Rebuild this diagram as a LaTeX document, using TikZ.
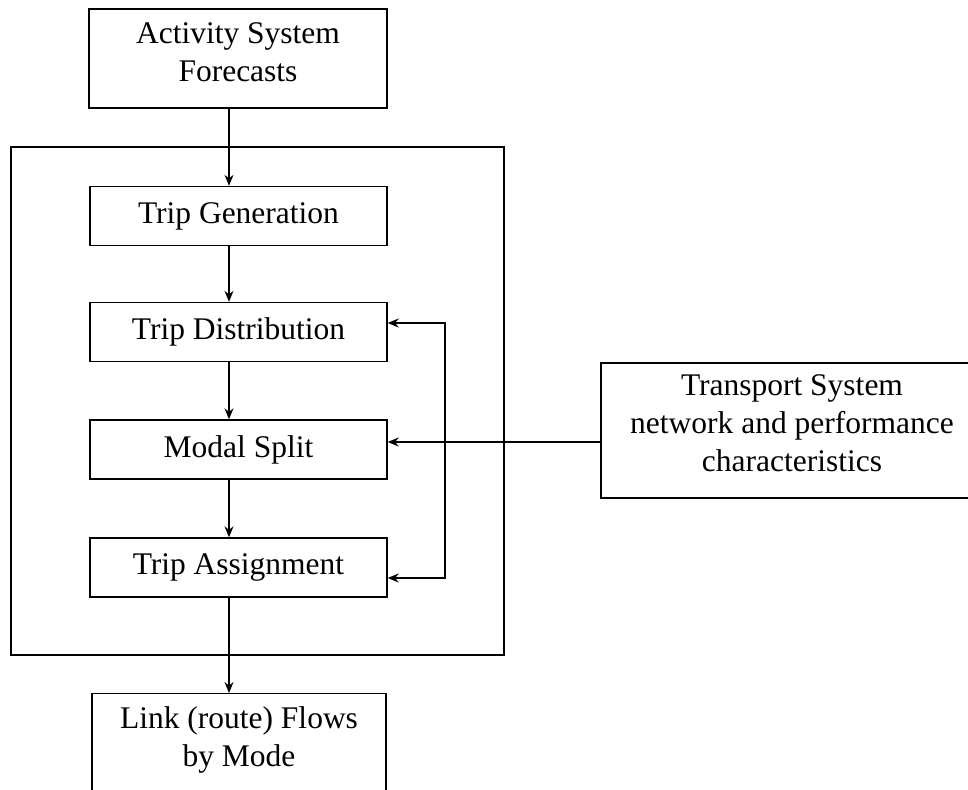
\documentclass[tikz,border=0pt]{standalone}
\usepackage{fontspec}
\setmainfont{Liberation Serif}
\usetikzlibrary{arrows.meta}
\newcommand{\stage}[3]{%
 \node[stage] ({#1}) at ({#2}) {#3};%
}
\begin{document}
\begin{tikzpicture}[x=1pt,y=-1pt,
  >={Stealth[length=11pt,width=9pt]},
  every node/.style={font=\fontsize{31.5}{38}\selectfont},
  stage/.style={draw,line width=1.4pt,minimum width=297pt,minimum height=59pt,align=center},
  link/.style={line width=1.3pt}]
   \useasboundingbox (0,0) rectangle (968,789);
   \clip (0,0) rectangle (968,789);
   \node[stage,minimum width=298pt,minimum height=99pt,text depth=13pt] (act) at (238,58.5) {Activity System\\Forecasts};
   \node[draw,line width=1.4pt,minimum width=493pt,minimum height=508pt] (model) at (257.5,401) {};
   \stage{gen}{238.5,216}{Trip Generation};
   \stage{dist}{238.5,332}{Trip Distribution};
   \stage{modal}{238.5,449.5}{Modal Split};
   \stage{assign}{238.5,567.5}{Trip Assignment};
   \node[stage,minimum width=294pt,minimum height=0pt,anchor=north,inner ysep=13pt,text depth=90pt] (flows) at (239,693) {Link (route) Flows\\by Mode};
   \node[stage,minimum width=382pt,minimum height=135pt,text depth=15pt] (trans) at (792,430.5) {Transport System\\network and performance\\characteristics};
   \coordinate (spine) at (229,0);
   \coordinate (fb1) at (445,323);
   \coordinate (fb2) at (445,442);
   \coordinate (fb3) at (445,578);
   \draw[link,->] (act.south -| spine) -- (gen.north -| spine);
   \draw[link,->] (gen.south -| spine) -- (dist.north -| spine);
   \draw[link,->] (dist.south -| spine) -- (modal.north -| spine);
   \draw[link,->] (modal.south -| spine) -- (assign.north -| spine);
   \draw[link,->] (assign.south -| spine) -- (flows.north -| spine);
   \draw[link,->] (trans.west |- fb2) -- (modal.east |- fb2);
   \draw[link,<->] (dist.east |- fb1) -- (fb1) -- (fb3) -- (assign.east |- fb3);
\end{tikzpicture}
\end{document}
